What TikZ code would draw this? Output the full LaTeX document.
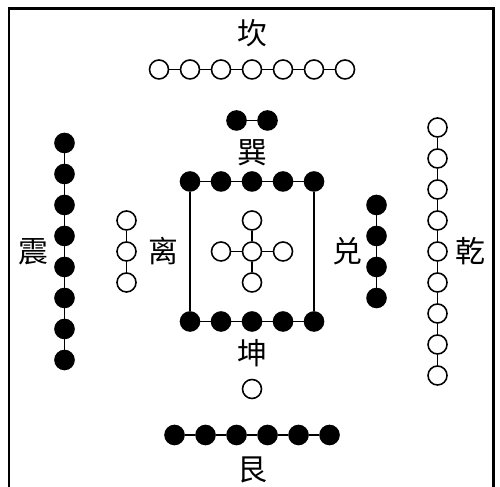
\documentclass[tikz,border=0pt]{standalone}
\usepackage{fontspec}
\newfontfamily\cjk{Noto Sans CJK SC}
\tikzset{
  yang/.style={circle,draw,fill=white,minimum size=0.38cm,inner sep=0pt},
  yin/.style={yang,fill=black},
  gua/.style={font=\cjk\fontsize{17}{17}\selectfont,inner sep=0pt}
}
\begin{document}
\begin{tikzpicture}[line width=0.9pt]
    \useasboundingbox (0,0) rectangle (10,9.74);

    % Frame
    \draw [line width=1.7pt] (0.18,-0.3) -- (0.18,9.56) -- (9.86,9.56) -- (9.86,-0.3);

    % Kan (top)
    \node [gua] (kanL) at (5.04,9.08) {坎};
    \foreach \i in {1,...,7}
        \node [yang] (kan\i) at ({5.04+(\i-4)*0.62},8.35) {};
    \foreach \i [count=\j from 2] in {1,...,6}
        \draw (kan\i) -- (kan\j);

    % Xun
    \node [yin] (xun1) at (4.73,7.33) {};
    \node [yin] (xun2) at (5.35,7.33) {};
    \draw (xun1) -- (xun2);
    \node [gua] (xunL) at (5.04,6.68) {巽};

    % Centre square
    \foreach \i in {1,...,5} {
        \node [yin] (kunT\i) at ({5.04+(\i-3)*0.62},6.11) {};
        \node [yin] (kunB\i) at ({5.04+(\i-3)*0.62},3.31) {};
    }
    \foreach \i [count=\j from 2] in {1,...,4} {
        \draw (kunT\i) -- (kunT\j);
        \draw (kunB\i) -- (kunB\j);
    }
    \draw (kunT1) -- (kunB1);
    \draw (kunT5) -- (kunB5);

    % Centre cross
    \node [yang] (c0) at (5.04,4.71) {};
    \node [yang] (cN) at (5.04,5.33) {};
    \node [yang] (cS) at (5.04,4.09) {};
    \node [yang] (cW) at (4.42,4.71) {};
    \node [yang] (cE) at (5.66,4.71) {};
    \draw (cN) -- (c0) -- (cS);
    \draw (cW) -- (c0) -- (cE);

    % Li
    \node [yang] (li1) at (2.53,5.33) {};
    \node [yang] (li2) at (2.53,4.71) {};
    \node [yang] (li3) at (2.53,4.09) {};
    \draw (li1) -- (li2) -- (li3);
    \node [gua] (liL) at (3.26,4.71) {离};

    % Zhen (left)
    \foreach \i in {1,...,8}
        \node [yin] (zhen\i) at (1.29,{4.71+(4.5-\i)*0.62}) {};
    \foreach \i [count=\j from 2] in {1,...,7}
        \draw (zhen\i) -- (zhen\j);
    \node [gua] (zhenL) at (0.66,4.71) {震};

    % Dui
    \foreach \i in {1,...,4}
        \node [yin] (dui\i) at (7.53,{4.71+(2.5-\i)*0.62}) {};
    \foreach \i [count=\j from 2] in {1,...,3}
        \draw (dui\i) -- (dui\j);
    \node [gua] (duiL) at (6.94,4.71) {兑};

    % Qian (right)
    \foreach \i in {1,...,9}
        \node [yang] (qian\i) at (8.75,{4.71+(5-\i)*0.62}) {};
    \foreach \i [count=\j from 2] in {1,...,8}
        \draw (qian\i) -- (qian\j);
    \node [gua] (qianL) at (9.4,4.71) {乾};

    % Kun and the single dot
    \node [gua] (kunL) at (5.04,2.68) {坤};
    \node [yang] (dot1) at (5.04,1.96) {};

    % Gen (bottom)
    \foreach \i in {1,...,6}
        \node [yin] (gen\i) at ({5.04+(\i-3.5)*0.62},1.04) {};
    \foreach \i [count=\j from 2] in {1,...,5}
        \draw (gen\i) -- (gen\j);
    \node [gua] (genL) at (5.04,0.34) {艮};
\end{tikzpicture}
\end{document}
